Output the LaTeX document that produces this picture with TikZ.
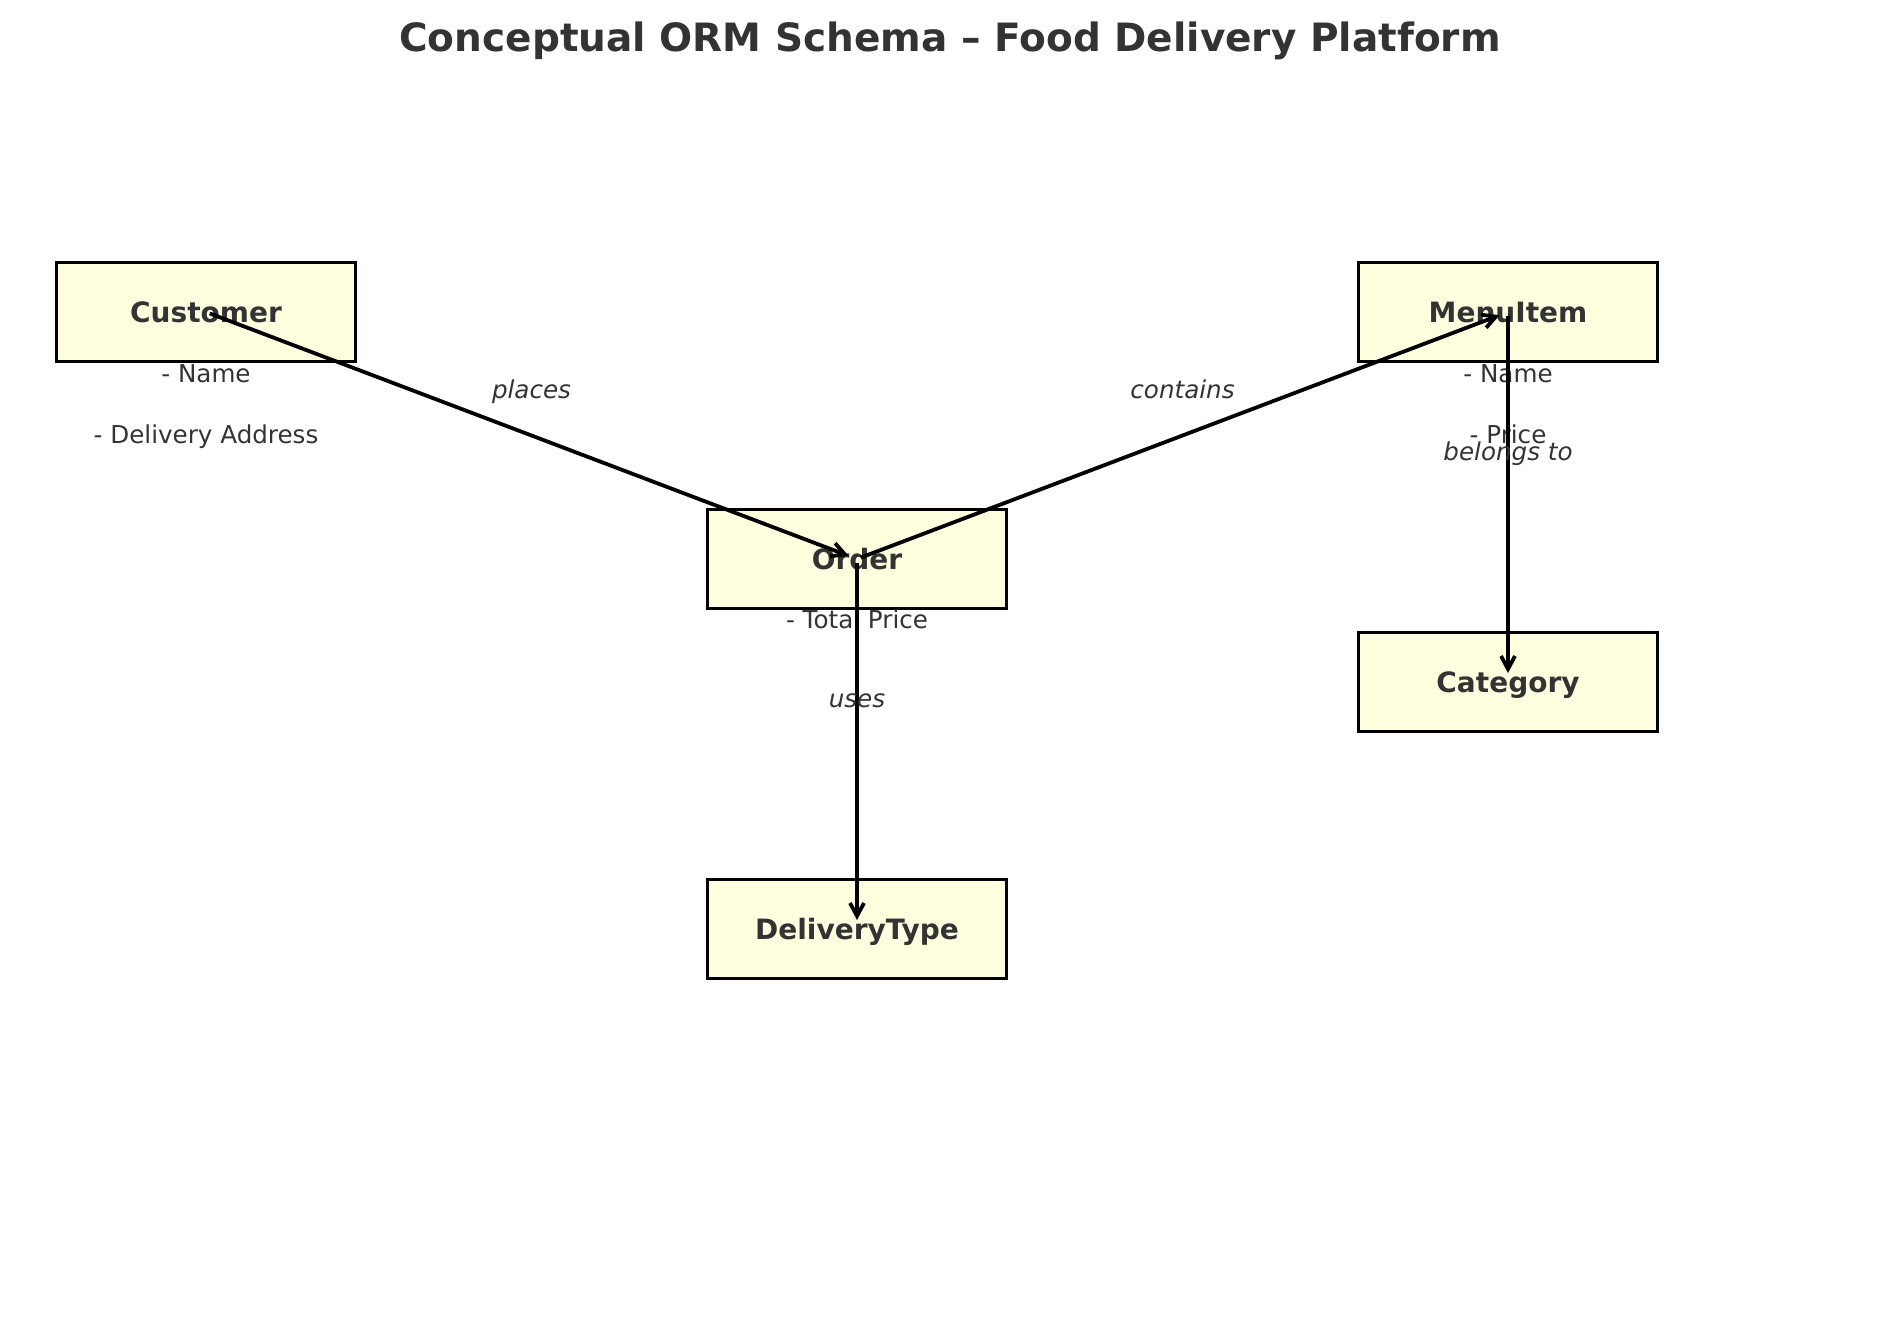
\documentclass[tikz,border=0pt]{standalone}
\usepackage{fontspec}
\setmainfont{DejaVu Sans}[BoldFont={DejaVu Sans Bold},ItalicFont={DejaVu Sans Oblique}]
\usepackage{xcolor}
\usetikzlibrary{arrows.meta}

\definecolor{boxfill}{HTML}{FFFFE0}
\definecolor{txtgray}{HTML}{333333}

\begin{document}
\begin{tikzpicture}[x=0.5pt,y=-0.5pt,->,>={Straight Barb[length=6.5pt,width=7pt]},
    line width=1.9pt,shorten >=4.5pt,shorten <=2pt,
    entity/.style={draw=black,line width=1.2pt,fill=boxfill,minimum width=149.5pt,
      minimum height=49.5pt,inner sep=0pt,text=txtgray,text height=10.2pt,text depth=0pt,
      font=\fontsize{14}{17}\selectfont\bfseries},
    attr/.style={anchor=base,text=txtgray,font=\fontsize{12.3}{15}\selectfont},
    rel/.style={midway,anchor=base,yshift=18.5pt,text=txtgray,
      font=\fontsize{12.3}{15}\selectfont\itshape},
    title/.style={anchor=base,text=txtgray,font=\fontsize{19.5}{23}\selectfont\bfseries}]

\useasboundingbox (0,0) rectangle (1900,1318);

\node[title] (ttl) at (950,51) {Conceptual ORM Schema – Food Delivery Platform};

% entities
\node[entity] (cust)  at (206,312)  {Customer};
\node[entity] (item)  at (1508,312) {MenuItem};
\node[entity] (order) at (857,559)  {Order};
\node[entity] (cat)   at (1508,682) {Category};
\node[entity] (dtype) at (857,929)  {DeliveryType};

% attributes
\node[attr] (cust-name)   at (206,382)  {- Name};
\node[attr] (cust-addr)   at (206,443)  {- Delivery Address};
\node[attr] (item-name)   at (1508,382) {- Name};
\node[attr] (item-price)  at (1508,443) {- Price};
\node[attr] (order-total) at (857,628)  {- Total Price};

% relationships
\draw (cust.center)  -- node[rel] {places}     (order.center);
\draw (order.center) -- node[rel] {contains}   (item.center);
\draw (item.center)  -- node[rel] {belongs to} (cat.center);
\draw (order.center) -- node[rel] {uses}       (dtype.center);

\end{tikzpicture}
\end{document}
